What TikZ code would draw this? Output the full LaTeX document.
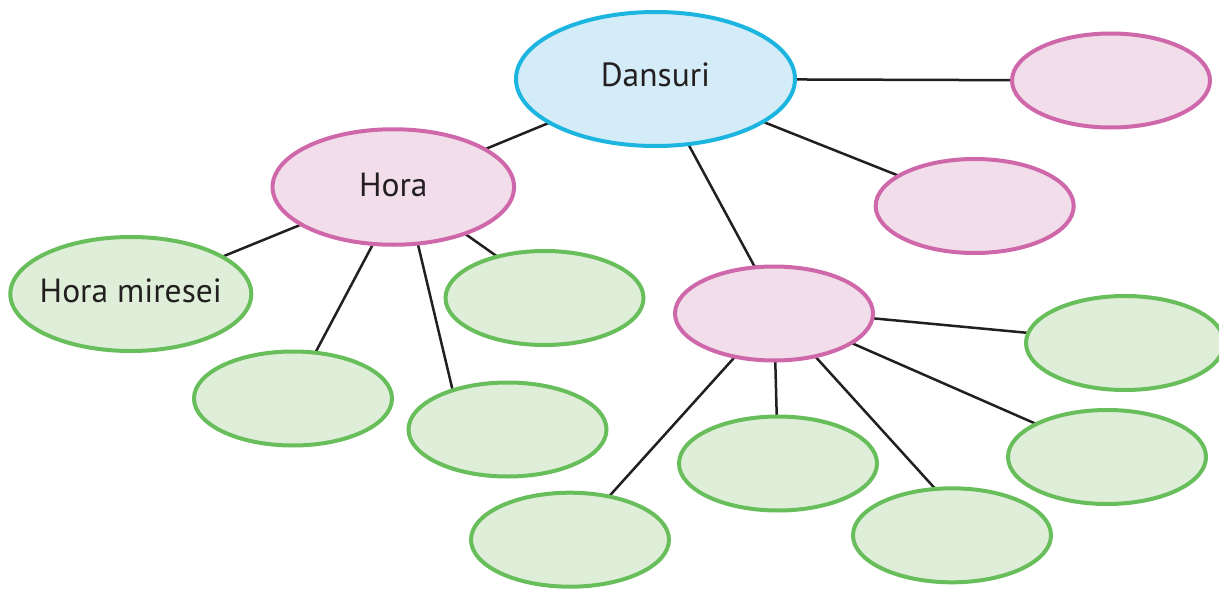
\documentclass[tikz,border=0pt]{standalone}
\usepackage{fontspec}
\setmainfont{PT Sans}
\usetikzlibrary{shapes.geometric,calc,backgrounds}
\definecolor{blueF}{HTML}{D4ECF7}
\definecolor{blueD}{HTML}{1CB5E0}
\definecolor{pinkF}{HTML}{F2DDEA}
\definecolor{pinkD}{HTML}{CF68AA}
\definecolor{greenF}{HTML}{DFEED8}
\definecolor{greenD}{HTML}{68BE5B}
\definecolor{lineC}{HTML}{231F20}
\begin{document}
\begin{tikzpicture}[x=1pt,y=-1pt,
  bub/.style={ellipse, line width=4pt, inner sep=0pt, outer sep=0pt,
    minimum width=198pt, minimum height=94pt},
  gbub/.style={bub, draw=greenD, fill=greenF},
  pbub/.style={bub, draw=pinkD, fill=pinkF},
  bbub/.style={bub, draw=blueD, fill=blueF},
  txt/.style={font=\fontsize{33.5}{40}\selectfont, text=lineC, inner sep=0pt},
  link/.style={draw=lineC, line width=2.5pt}]
\useasboundingbox (0,0) rectangle (1219,589);
% nodes
\node[bbub, minimum width=279pt, minimum height=134pt, label={[txt,yshift=4pt]center:Dansuri}] (D) at (655.5,79) {};
\node[pbub] (TR) at (1111,80.5) {};
\node[pbub] (RP) at (974.7,206) {};
\node[pbub, minimum width=241.5pt, minimum height=115.5pt, label={[txt,yshift=2.5pt]center:Hora}] (H) at (393.3,187) {};
\node[pbub] (M) at (774,313.5) {};
\node[gbub, minimum width=241pt, minimum height=114pt, label={[txt,yshift=3pt]center:Hora miresei}] (HM) at (130.8,294) {};
\node[gbub] (G1) at (544.5,298) {};
\node[gbub] (G2) at (293,398.5) {};
\node[gbub] (G3) at (507.5,429.5) {};
\node[gbub] (G4) at (1125,343) {};
\node[gbub] (G5) at (1107,457) {};
\node[gbub] (G6) at (778,463.5) {};
\node[gbub] (G7) at (952,535.3) {};
\node[gbub] (G8) at (570,539.7) {};
% connectors
\begin{pgfonlayer}{background}
\draw[link] (D.center) -- (H.center);
\draw[link] (D.center) -- (TR.center);
\draw[link] (D.center) -- (RP.center);
\draw[link] ($(D.center)+(-2.5,0)$) -- ($(M.center)+(6,0)$);
\draw[link] (H.center) -- (HM.center);
\draw[link] ($(H.center)+(0,-4)$) -- ($(G1.center)+(0,-8)$);
\draw[link] ($(H.center)+(10,0)$) -- ($(G2.center)+(-2,0)$);
\draw[link] ($(H.center)+(11,0)$) -- ($(G3.center)+(-45.5,0)$);
\draw[link] ($(M.center)+(0,-4.5)$) -- ($(G4.center)+(0,-1)$);
\draw[link] ($(M.center)+(0,-4.5)$) -- ($(G5.center)+(0,-2)$);
\draw[link] ($(M.center)+(0,-2.5)$) -- ($(G7.center)+(0,-28)$);
\draw[link] (M.center) -- (G6.center);
\draw[link] (M.center) -- (G8.center);
\end{pgfonlayer}
\end{tikzpicture}
\end{document}
